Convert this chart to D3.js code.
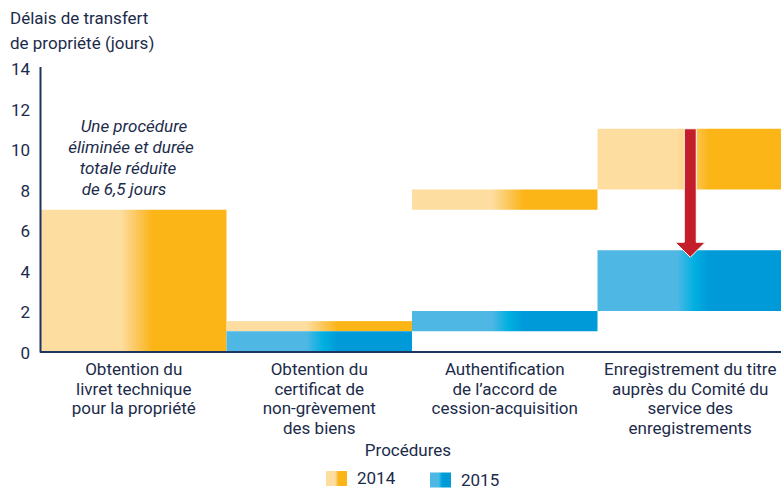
<!DOCTYPE html>
<html>
<head>
<meta charset="utf-8">
<script src="https://cdn.jsdelivr.net/npm/d3@7"></script>
<style>
  body { margin: 0; background: #fff; }
  text { font-family: Roboto, "Liberation Sans", sans-serif; fill: #1c2b4a; }
</style>
</head>
<body>
<div id="chart"></div>
<script>
// Data
const categories = ["livret", "certificat", "authentification", "enregistrement"];
const categoryLabels = [
  ["Obtention du", "livret technique", "pour la propriété"],
  ["Obtention du", "certificat de", "non-grèvement", "des biens"],
  ["Authentification", "de l’accord de", "cession-acquisition"],
  ["Enregistrement du titre", "auprès du Comité du", "service des", "enregistrements"]
];
const start2014 = [0, 1, 7, 8];
const end2014 = [7, 1.5, 8, 11];
const start2015 = [null, 0, 1, 2];
const end2015 = [null, 1, 2, 5];
const yTicks = [0, 2, 4, 6, 8, 10, 12, 14];
const noteLines = ["Une procédure", "éliminée et durée", "totale réduite", "de 6,5 jours"];

const W = 781, H = 488;
const svg = d3.select("#chart").append("svg")
  .attr("width", W).attr("height", H);

// gradients
const defs = svg.append("defs");
function grad(id, light, mid, dark) {
  const g = defs.append("linearGradient").attr("id", id)
    .attr("x1", "0%").attr("x2", "100%").attr("y1", "0%").attr("y2", "0%");
  [[0, light], [0.43, light], [0.52, mid], [0.6, dark], [1, dark]].forEach(s => {
    g.append("stop").attr("offset", s[0]).attr("stop-color", s[1]);
  });
}
grad("g2014", "#fddda0", "#fcc75a", "#fbb517");
grad("g2015", "#4fb7e4", "#00b0e1", "#009ad9");

// scales
const x = d3.scaleBand().domain(categories).range([41, 783]).padding(0);
const y = d3.scaleLinear().domain([0, 14]).range([351.5, 68]);

// bars 2014
svg.append("g").selectAll("rect")
  .data(categories.map((c, i) => ({ c, s: start2014[i], e: end2014[i] })))
  .join("rect")
  .attr("x", d => x(d.c))
  .attr("width", x.bandwidth())
  .attr("y", d => y(d.e))
  .attr("height", d => y(d.s) - y(d.e))
  .attr("fill", "url(#g2014)");

// bars 2015
svg.append("g").selectAll("rect")
  .data(categories.map((c, i) => ({ c, s: start2015[i], e: end2015[i] })).filter(d => d.s !== null))
  .join("rect")
  .attr("x", d => x(d.c))
  .attr("width", x.bandwidth())
  .attr("y", d => y(d.e))
  .attr("height", d => y(d.s) - y(d.e))
  .attr("fill", "url(#g2015)");

// arrow on last procedure
const ax = x(categories[3]) + x.bandwidth() / 2;
const aTop = y(end2014[3]);
const aTip = y(end2015[3]) + 7;
const headH = 15, shaftW = 12, headW = 30;
const arrow = svg.append("g").attr("fill", "#c41e2a").attr("stroke", "#fff").attr("stroke-width", 1);
arrow.append("path")
  .attr("d", `M${ax - shaftW / 2},${aTop} L${ax + shaftW / 2},${aTop} L${ax + shaftW / 2},${aTip - headH}
    L${ax + headW / 2},${aTip - headH} L${ax},${aTip} L${ax - headW / 2},${aTip - headH}
    L${ax - shaftW / 2},${aTip - headH} Z`);

// axes
svg.append("line")
  .attr("x1", 40.5).attr("x2", 40.5).attr("y1", 67).attr("y2", 352.5)
  .attr("stroke", "#1b3560").attr("stroke-width", 2);
svg.append("line")
  .attr("x1", 40).attr("x2", W).attr("y1", 352).attr("y2", 352)
  .attr("stroke", "#1b3560").attr("stroke-width", 2);

svg.append("g").selectAll("text")
  .data(yTicks)
  .join("text")
  .attr("x", 30)
  .attr("y", d => y(d) + 7)
  .attr("text-anchor", "end")
  .attr("font-size", 17)
  .text(d => d);

// y title
svg.append("text").attr("x", 10).attr("y", 24).attr("font-size", 17).text("Délais de transfert");
svg.append("text").attr("x", 10).attr("y", 49).attr("font-size", 17).text("de propriété (jours)");

// category labels
categoryLabels.forEach((lines, i) => {
  const t = svg.append("text")
    .attr("text-anchor", "middle")
    .attr("font-size", 17);
  lines.forEach((l, j) => {
    t.append("tspan")
      .attr("x", x(categories[i]) + x.bandwidth() / 2)
      .attr("y", 375 + j * 19.6)
      .text(l);
  });
});

svg.append("text")
  .attr("x", 408).attr("y", 456)
  .attr("text-anchor", "middle")
  .attr("font-size", 17)
  .text("Procédures");

// annotation
const noteX = [134, 131, 128, 124];
noteLines.forEach((l, j) => {
  svg.append("text")
    .attr("x", noteX[j]).attr("y", 132 + j * 21)
    .attr("text-anchor", "middle")
    .attr("font-size", 17)
    .attr("font-style", "italic")
    .text(l);
});

// legend
const legend = [
  { label: "2014", fill: "url(#g2014)", x: 326 },
  { label: "2015", fill: "url(#g2015)", x: 430 }
];
legend.forEach((d, i) => {
  svg.append("rect")
    .attr("x", d.x).attr("y", 471 + i * 1.5)
    .attr("width", 21).attr("height", 15)
    .attr("fill", d.fill);
  svg.append("text")
    .attr("x", d.x + 31).attr("y", 484 + i * 1.5)
    .attr("font-size", 17)
    .text(d.label);
});
</script>
</body>
</html>
